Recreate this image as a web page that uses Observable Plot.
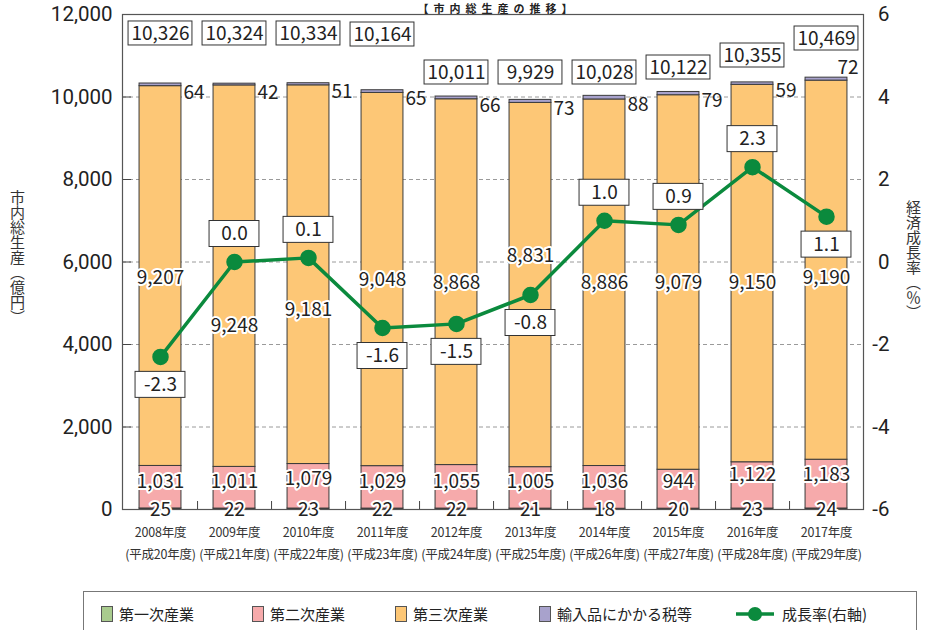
<!DOCTYPE html>
<html><head><meta charset="utf-8">
<script src="https://cdn.jsdelivr.net/npm/d3@7"></script>
<script src="https://cdn.jsdelivr.net/npm/@observablehq/plot@0.6"></script>
<style>
body{margin:0;background:#fff;font-family:"Noto Sans CJK JP","Noto Sans",sans-serif;color:#222;}
#wrap{position:relative;width:927px;height:630px;overflow:hidden;}
#title{position:absolute;left:0;width:995px;top:2.5px;height:11px;line-height:11px;text-align:center;font-size:11px;font-weight:bold;letter-spacing:5px;color:#222;}
.vt{position:absolute;writing-mode:vertical-rl;text-orientation:mixed;font-size:15px;line-height:17px;color:#333;}
#chart{position:absolute;left:0;top:0;}
#legend{position:absolute;left:83px;top:591px;width:834px;height:60px;border:1.5px solid #777;box-sizing:border-box;}
.li{position:absolute;top:12px;font-size:15px;line-height:20px;color:#222;white-space:nowrap;}
.sw{position:absolute;top:2px;width:12px;height:16px;border:1px solid #555;box-sizing:border-box;}
</style></head><body><div id="wrap">
<div id="title">【市内総生産の推移】</div>
<div id="chart"></div>
<div class="vt" style="left:9px;top:190px;">市内総生産（億円）</div>
<div class="vt" style="left:905px;top:200px;">経済成長率（％）</div>
<div id="legend"></div>
</div>
<script>
// ---- data ----
const years = ["2008","2009","2010","2011","2012","2013","2014","2015","2016","2017"];
const yearLabels = ["2008年度","2009年度","2010年度","2011年度","2012年度","2013年度","2014年度","2015年度","2016年度","2017年度"];
const eraLabels = ["(平成20年度)","(平成21年度)","(平成22年度)","(平成23年度)","(平成24年度)","(平成25年度)","(平成26年度)","(平成27年度)","(平成28年度)","(平成29年度)"];
const categories = ["第一次産業","第二次産業","第三次産業","輸入品にかかる税等"];
const primary = [25,22,23,22,22,21,18,20,23,24];
const secondary = [1031,1011,1079,1029,1055,1005,1036,944,1122,1183];
const tertiary = [9207,9248,9181,9048,8868,8831,8886,9079,9150,9190];
const taxes = [64,42,51,65,66,73,88,79,59,72];
const totals = [10326,10324,10334,10164,10011,9929,10028,10122,10355,10469];
const growth = [-2.3,0.0,0.1,-1.6,-1.5,-0.8,1.0,0.9,2.3,1.1];
const leftTicks = [0,2000,4000,6000,8000,10000,12000];
const lineLegend = "成長率(右軸)";

// ---- label anchor positions (left-axis units) ----
const totalLabelAt = [11540,11540,11540,11515,10594,10594,10594,10715,11006,11418];
const tertiaryLabelAt = [5624,4461,4848,5576,5503,6158,5503,5503,5503,5624];
const secondaryLabelAt = [680,680,750,680,680,680,680,680,848,848];
const growthLabelSide = [1,-1,-1,1,1,1,-1,-1,-1,1]; // 1 = below point, -1 = above

// ---- styles ----
const colors = ["#a9cb8e","#f6aaab","#fdc776","#a8a2cc"];
const lineColor = "#0b8a3d";
const W = 927, H = 590, mL = 122, mR = 64, mT = 14, mB = 81;
const plotW = W - mL - mR, plotH = H - mT - mB;
const upx = 12000 / plotH;           // left-axis units per pixel
const step = plotW / years.length;
const barW = 42, totBoxW = 64, grBoxW = 50;
const toLeft = g => (g + 6) * 1000;  // right axis -> left axis units

const rows = [];
years.forEach((y, i) => {
  [primary, secondary, tertiary, taxes].forEach((arr, k) => rows.push({year: y, cat: categories[k], value: arr[i]}));
});
const items = years.map((y, i) => ({
  year: y, i, primary: primary[i], secondary: secondary[i], tertiary: tertiary[i], tax: taxes[i],
  total: totals[i], growth: growth[i], gy: toLeft(growth[i]),
  totAt: totalLabelAt[i], terAt: tertiaryLabelAt[i], secAt: secondaryLabelAt[i],
  grAt: toLeft(growth[i]) - growthLabelSide[i] * 28 * upx
}));
const fmt = d3.format(",");
const numFont = 19;
const axisFont = "Roboto, 'Noto Sans', sans-serif";

const chart = Plot.plot({
  width: W, height: H,
  marginLeft: mL, marginRight: mR, marginTop: mT, marginBottom: mB,
  style: {fontFamily: "'Noto Sans CJK JP','Noto Sans',sans-serif", fontSize: "19px", color: "#222", background: "transparent"},
  x: {domain: years, padding: 0, axis: null, label: null},
  y: {domain: [0, 12000], axis: null, label: null},
  color: {domain: categories, range: colors},
  marks: [
    Plot.ruleY([2000,4000,6000,8000,10000], {stroke: "#9a9a9a", strokeDasharray: "4,3", strokeWidth: 1}),
    Plot.barY(rows, {x: "year", y: "value", fill: "cat", order: categories, stroke: "#3a3a3a", strokeWidth: 1,
      insetLeft: (step - barW) / 2, insetRight: (step - barW) / 2}),
    Plot.ruleY(leftTicks.slice(1, -1), {stroke: "#444", insetRight: plotW - 9}),
    Plot.ruleX(years.slice(0, -1), {x: d => d, dx: step / 2, y1: 0, y2: 8 * upx, stroke: "#444"}),
    Plot.frame({stroke: "#555", strokeWidth: 1.2}),
    // in-bar labels
    Plot.text(items, {x: "year", y: "terAt", text: d => fmt(d.tertiary), fontSize: numFont, fill: "#222", stroke: "white", strokeWidth: 4}),
    Plot.text(items, {x: "year", y: "secAt", text: d => fmt(d.secondary), fontSize: numFont, fill: "#222", stroke: "white", strokeWidth: 4}),
    Plot.text(items, {x: "year", y: 0, text: d => fmt(d.primary), fontSize: numFont, fill: "#222", stroke: "white", strokeWidth: 4}),
    // tax labels
    Plot.text(items.slice(0, 9), {x: "year", y: "total", text: d => fmt(d.tax), fontSize: numFont, fill: "#222",
      textAnchor: "start", dx: barW / 2 + 2, dy: 9}),
    Plot.text(items.slice(9), {x: "year", y: "total", text: d => fmt(d.tax), fontSize: numFont, fill: "#222",
      textAnchor: "end", dx: barW / 2 + 11, dy: -10}),
    // total boxes
    Plot.barY(items, {x: "year", y1: d => d.totAt - 12 * upx, y2: d => d.totAt + 12 * upx, fill: "white", stroke: "#333", strokeWidth: 1,
      insetLeft: (step - totBoxW) / 2, insetRight: (step - totBoxW) / 2}),
    Plot.text(items, {x: "year", y: "totAt", text: d => fmt(d.total), fontSize: numFont, fill: "#222"}),
    // growth line
    Plot.line(items, {x: "year", y: "gy", stroke: lineColor, strokeWidth: 3.5}),
    Plot.dot(items, {x: "year", y: "gy", r: 7.5, fill: lineColor, stroke: lineColor}),
    Plot.barY(items, {x: "year", y1: d => d.grAt - 13 * upx, y2: d => d.grAt + 13 * upx, fill: "white", stroke: "#333", strokeWidth: 1,
      insetLeft: (step - grBoxW) / 2, insetRight: (step - grBoxW) / 2}),
    Plot.text(items, {x: "year", y: "grAt", text: d => d.growth.toFixed(1), fontSize: numFont, fill: "#222"}),
    // axes
    Plot.axisY(leftTicks, {anchor: "left", label: null, tickSize: 0, tickPadding: 10, tickFormat: d => fmt(d), fontSize: 20.5, fontFamily: axisFont, fill: "#222"}),
    Plot.axisY(leftTicks, {anchor: "right", label: null, tickSize: 0, tickPadding: 26, textAnchor: "end", tickFormat: d => String(d / 1000 - 6), fontSize: 20.5, fontFamily: axisFont, fill: "#222"}),
    Plot.axisX(years, {anchor: "bottom", label: null, tickSize: 0, tickPadding: 12, fontSize: 12.5, lineHeight: 1.75, fill: "#333",
      tickFormat: d => yearLabels[years.indexOf(d)] + "\n" + eraLabels[years.indexOf(d)]})
  ]
});
document.getElementById("chart").appendChild(chart);
const xl = chart.querySelector('g[aria-label="x-axis tick label"]');
if (xl) xl.style.letterSpacing = "-0.2px";

// legend
const lg = document.getElementById("legend");
const legendLeft = [17, 168, 311, 455];
categories.forEach((c, k) => {
  const el = document.createElement("div");
  el.className = "li";
  el.style.left = legendLeft[k] + "px";
  el.innerHTML = `<span class="sw" style="left:0;background:${colors[k]}"></span><span style="margin-left:18px">${c}</span>`;
  lg.appendChild(el);
});
const ll = document.createElement("div");
ll.className = "li";
ll.style.left = "652px";
ll.innerHTML = `<svg width="38" height="20" style="position:absolute;left:0;top:0"><line x1="0" y1="10" x2="38" y2="10" stroke="${lineColor}" stroke-width="3.5"/><circle cx="19" cy="10" r="7" fill="${lineColor}"/></svg><span style="margin-left:46px">${lineLegend}</span>`;
lg.appendChild(ll);
</script>
</body></html>
